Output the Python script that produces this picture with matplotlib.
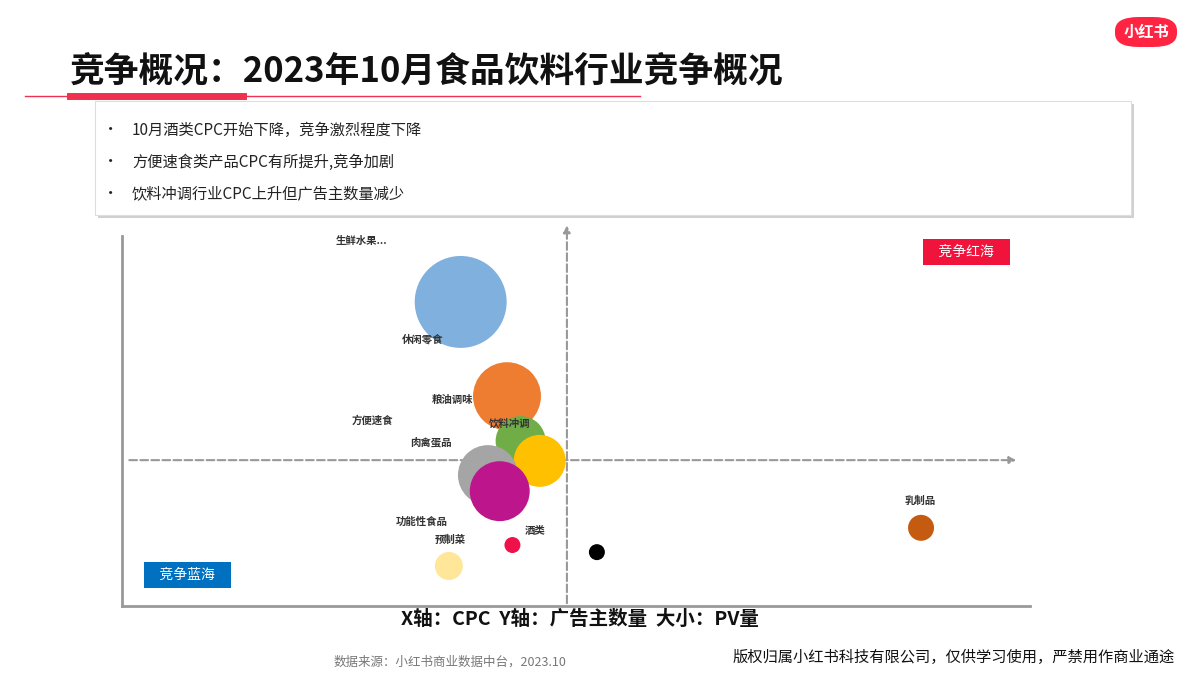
import matplotlib.pyplot as plt
from matplotlib.patches import FancyBboxPatch, Rectangle

plt.rcParams['font.family'] = ['Noto Sans CJK SC', 'DejaVu Sans']

# 数据: CPC (x), 广告主数量 (y), PV量 (大小)
categories = ['休闲零食', '粮油调味', '饮料冲调', '方便速食', '肉禽蛋品', '功能性食品',
              '酒类', '预制菜', '其他', '乳制品']
cpc = [37.3, 42.4, 43.9, 46.0, 40.3, 41.6, 43.0, 36.0, 52.3, 88.0]
advertisers = [81.3, 56.1, 44.1, 38.8, 35.0, 30.7, 16.3, 10.7, 14.4, 20.9]
pv = [2116, 1156, 625, 676, 900, 900, 64, 196, 64, 169]
colors = ['#7fb0de', '#ee7d31', '#70ad47', '#ffc000', '#a5a5a5', '#bd168d',
          '#f0104a', '#ffe699', '#000000', '#c55a11']
# 标签位置 (与气泡不一定重合)
label_pos = {'生鲜水果...': (23.5, 97.5), '休闲零食': (30.8, 71.2), '粮油调味': (34.1, 55.1),
             '方便速食': (25.3, 49.6), '饮料冲调': (40.4, 48.7), '肉禽蛋品': (31.7, 43.9),
             '功能性食品': (30.1, 22.5), '酒类': (44.3, 20.0), '预制菜': (34.4, 17.6),
             '乳制品': (86.2, 28.0)}

fig = plt.figure(figsize=(12, 6.75), dpi=100)
fig.patch.set_facecolor('white')

# 标题
fig.text(70 / 1200, 1 - 72 / 675, '竞争概况：2023年10月食品饮料行业竞争概况', fontsize=25,
         fontweight='bold', va='center', ha='left', color='#111111')
fig.add_artist(plt.Line2D([25 / 1200, 640 / 1200], [1 - 96 / 675] * 2, color='#f0304f', lw=1))
fig.add_artist(plt.Line2D([70 / 1200, 243 / 1200], [1 - 96 / 675] * 2, color='#f0304f', lw=5))

# 小红书 logo
fig.add_artist(FancyBboxPatch((1115 / 1200, 1 - 47 / 675), 62 / 1200, 30 / 675,
                              boxstyle='round,pad=0,rounding_size=0.02', transform=fig.transFigure,
                              facecolor='#ff2442', edgecolor='none'))
fig.text(1146 / 1200, 1 - 32 / 675, '小红书', color='white', fontsize=11, fontweight='bold',
         ha='center', va='center')

# 说明框
fig.add_artist(Rectangle((98 / 1200, 1 - 218 / 675), 1036 / 1200, 114 / 675, transform=fig.transFigure,
                         facecolor='#d0d0d0', edgecolor='none'))
fig.add_artist(Rectangle((95 / 1200, 1 - 215 / 675), 1036 / 1200, 114 / 675, transform=fig.transFigure,
                         facecolor='white', edgecolor='#dddddd', lw=0.8))
bullets = ['10月酒类CPC开始下降，竞争激烈程度下降', '方便速食类产品CPC有所提升,竞争加剧',
           '饮料冲调行业CPC上升但广告主数量减少']
for i, b in enumerate(bullets):
    y = 1 - (130 + i * 32) / 675
    fig.text(103 / 1200, y, '•', fontsize=11, va='center', color='#222222')
    fig.text(132 / 1200, y, b, fontsize=11, va='center', color='#222222')

# 气泡图
ax = fig.add_axes([122 / 1200, 69 / 675, 908 / 1200, 374 / 675])
ax.set_xlim(0, 100)
ax.set_ylim(0, 100)
ax.scatter(cpc, advertisers, s=[p * 2.07 for p in pv], c=colors, edgecolors='none', zorder=3)
for name, (lx, ly) in label_pos.items():
    ax.text(lx, ly, name, fontsize=7.5, fontweight='bold', ha='left', va='center',
            color='#333333', zorder=4)

ax.annotate('', xy=(98.8, 39.0), xytext=(0.5, 39.0),
            arrowprops=dict(arrowstyle='-|>', color='#999999', lw=1.5, ls='--'), zorder=2)
ax.annotate('', xy=(49.0, 102.5), xytext=(49.0, 0),
            arrowprops=dict(arrowstyle='-|>', color='#999999', lw=1.5, ls='--'), zorder=2,
            annotation_clip=False)

for s in ['top', 'right']:
    ax.spines[s].set_visible(False)
for s in ['left', 'bottom']:
    ax.spines[s].set_color('#999999')
    ax.spines[s].set_linewidth(2)
ax.set_xticks([])
ax.set_yticks([])
ax.spines['left'].set_bounds(0, 99)

# 象限标签
ax.text(93.0, 94.7, '   竞争红海   ', fontsize=10, color='white', ha='center', va='center',
        bbox=dict(boxstyle='square,pad=0.45', facecolor='#f0143c', edgecolor='none'))
ax.text(7.2, 8.3, '   竞争蓝海   ', fontsize=10, color='white', ha='center', va='center',
        bbox=dict(boxstyle='square,pad=0.45', facecolor='#0070c0', edgecolor='none'))

fig.text(580 / 1200, 1 - 619 / 675, 'X轴：CPC  Y轴：广告主数量  大小：PV量', fontsize=14,
         fontweight='bold', ha='center', va='center', color='#111111')
fig.text(450 / 1200, 1 - 662 / 675, '数据来源：小红书商业数据中台，2023.10', fontsize=9,
         ha='center', va='center', color='#777777')
fig.text(1175 / 1200, 1 - 657 / 675, '版权归属小红书科技有限公司，仅供学习使用，严禁用作商业通途',
         fontsize=11, ha='right', va='center', color='#111111')

fig.savefig('out.png', dpi=100)
